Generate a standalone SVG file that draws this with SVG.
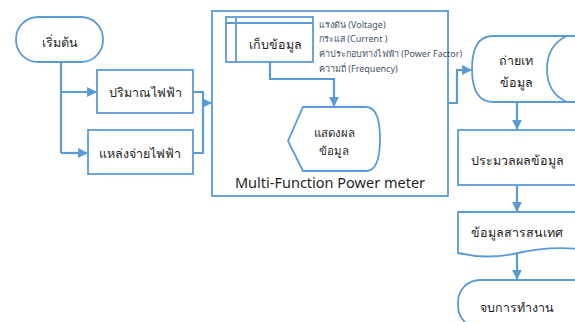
<svg xmlns="http://www.w3.org/2000/svg" width="575" height="322" viewBox="0 0 575 322">
  <defs>
    <marker id="arrow" viewBox="0 0 10 10" refX="9" refY="5" markerWidth="4.5" markerHeight="4.5" orient="auto" markerUnits="strokeWidth">
      <path d="M0,0 L10,5 L0,10 Z" fill="#5b9bd5"/>
    </marker>
    <style>
      .shape { fill: #ffffff; stroke: #5b9bd5; stroke-width: 1.8; }
      .edge { fill: none; stroke: #5b9bd5; stroke-width: 2.2; marker-end: url(#arrow); }
      .line { fill: none; stroke: #5b9bd5; stroke-width: 2.2; }
      .lbl { font-family: "Noto Sans", "DejaVu Sans", sans-serif; font-size: 12.5px; font-weight: 500; fill: #1f1f1f; text-anchor: middle; dominant-baseline: central; }
      .small { font-size: 11.5px; }
      .attr { font-family: "Noto Sans", "DejaVu Sans", sans-serif; font-size: 9px; fill: #44546a; }
    </style>
  </defs>

  <rect width="575" height="322" fill="#ffffff"/>

  <!-- start terminator -->
  <g id="start">
    <rect class="shape" x="16" y="17" width="87" height="45" rx="22" ry="22"/>
    <text class="lbl" x="59.5" y="42">เริ่มต้น</text>
  </g>

  <!-- quantity input -->
  <g id="quantity">
    <rect class="shape" x="97" y="70" width="96" height="43"/>
    <text class="lbl" x="145" y="92.5">ปริมาณไฟฟ้า</text>
  </g>

  <!-- supply input -->
  <g id="supply">
    <rect class="shape" x="88" y="130" width="105" height="44"/>
    <text class="lbl" x="140" y="153">แหล่งจ่ายไฟฟ้า</text>
  </g>

  <!-- power meter enclosure -->
  <g id="meter">
    <rect class="shape" x="212" y="11" width="236" height="185"/>
    <text x="330" y="182" font-family="'Noto Sans', 'DejaVu Sans', sans-serif" font-size="14.5" fill="#1f1f1f" text-anchor="middle" dominant-baseline="central">Multi-Function Power meter</text>
  </g>

  <!-- internal storage -->
  <g id="store">
    <rect class="shape" x="226" y="17" width="87" height="45"/>
    <line x1="236" y1="17" x2="236" y2="62" stroke="#5b9bd5" stroke-width="1.8"/>
    <line x1="226" y1="23" x2="313" y2="23" stroke="#5b9bd5" stroke-width="1.8"/>
    <text class="lbl" x="275" y="44">เก็บข้อมูล</text>
  </g>

  <!-- measured quantities -->
  <g id="params">
    <text class="attr" x="319" y="28">แรงดัน (Voltage)</text>
    <text class="attr" x="319" y="42">กระแส (Current )</text>
    <text class="attr" x="319" y="57">ค่าประกอบทางไฟฟ้า (Power Factor)</text>
    <text class="attr" x="319" y="72">ความถี่ (Frequency)</text>
  </g>

  <!-- display -->
  <g id="display">
    <path class="shape" d="M303,107 L366,107 Q380,107 380,139 Q380,171 366,171 L303,171 L288,141 Z"/>
    <text class="lbl small" x="334" y="132">แสดงผล</text>
    <text class="lbl small" x="334" y="150">ข้อมูล</text>
  </g>

  <!-- data transfer (stored data) -->
  <g id="transfer">
    <path class="shape" d="M578,36 L493,36 Q472,36 472,69 Q472,102 493,102 L578,102"/>
    <path class="shape" fill="none" d="M567,36 Q547,45 547,69 Q547,93 567,102"/>
    <text class="lbl" x="516" y="60">ถ่ายเท</text>
    <text class="lbl" x="516" y="82">ข้อมูล</text>
  </g>

  <!-- processing -->
  <g id="process">
    <rect class="shape" x="458" y="130" width="122" height="55"/>
    <text class="lbl" x="517" y="160">ประมวลผลข้อมูล</text>
  </g>

  <!-- information document -->
  <g id="document">
    <path class="shape" d="M580,212 L458,212 L458,253 Q488,260 518,253 Q548,246 580,249"/>
    <text class="lbl" x="517" y="232">ข้อมูลสารสนเทศ</text>
  </g>

  <!-- end terminator -->
  <g id="end">
    <rect class="shape" x="458" y="280" width="140" height="48" rx="22" ry="22"/>
    <text class="lbl" x="517" y="307">จบการทำงาน</text>
  </g>

  <!-- connectors -->
  <g id="connectors">
    <path class="line" d="M61,62 V153"/>
    <path class="edge" d="M61,92 H96"/>
    <path class="edge" d="M61,153 H87"/>
    <path class="line" d="M193,92 H203 V153 H193"/>
    <path class="edge" d="M203,103 H211"/>
    <path class="edge" d="M270,62 V79 H334 V106"/>
    <path class="edge" d="M448,103 H457 V70 H471"/>
    <path class="edge" d="M517,102 V129"/>
    <path class="edge" d="M517,185 V211"/>
    <path class="edge" d="M517,253 V279"/>
  </g>
</svg>
